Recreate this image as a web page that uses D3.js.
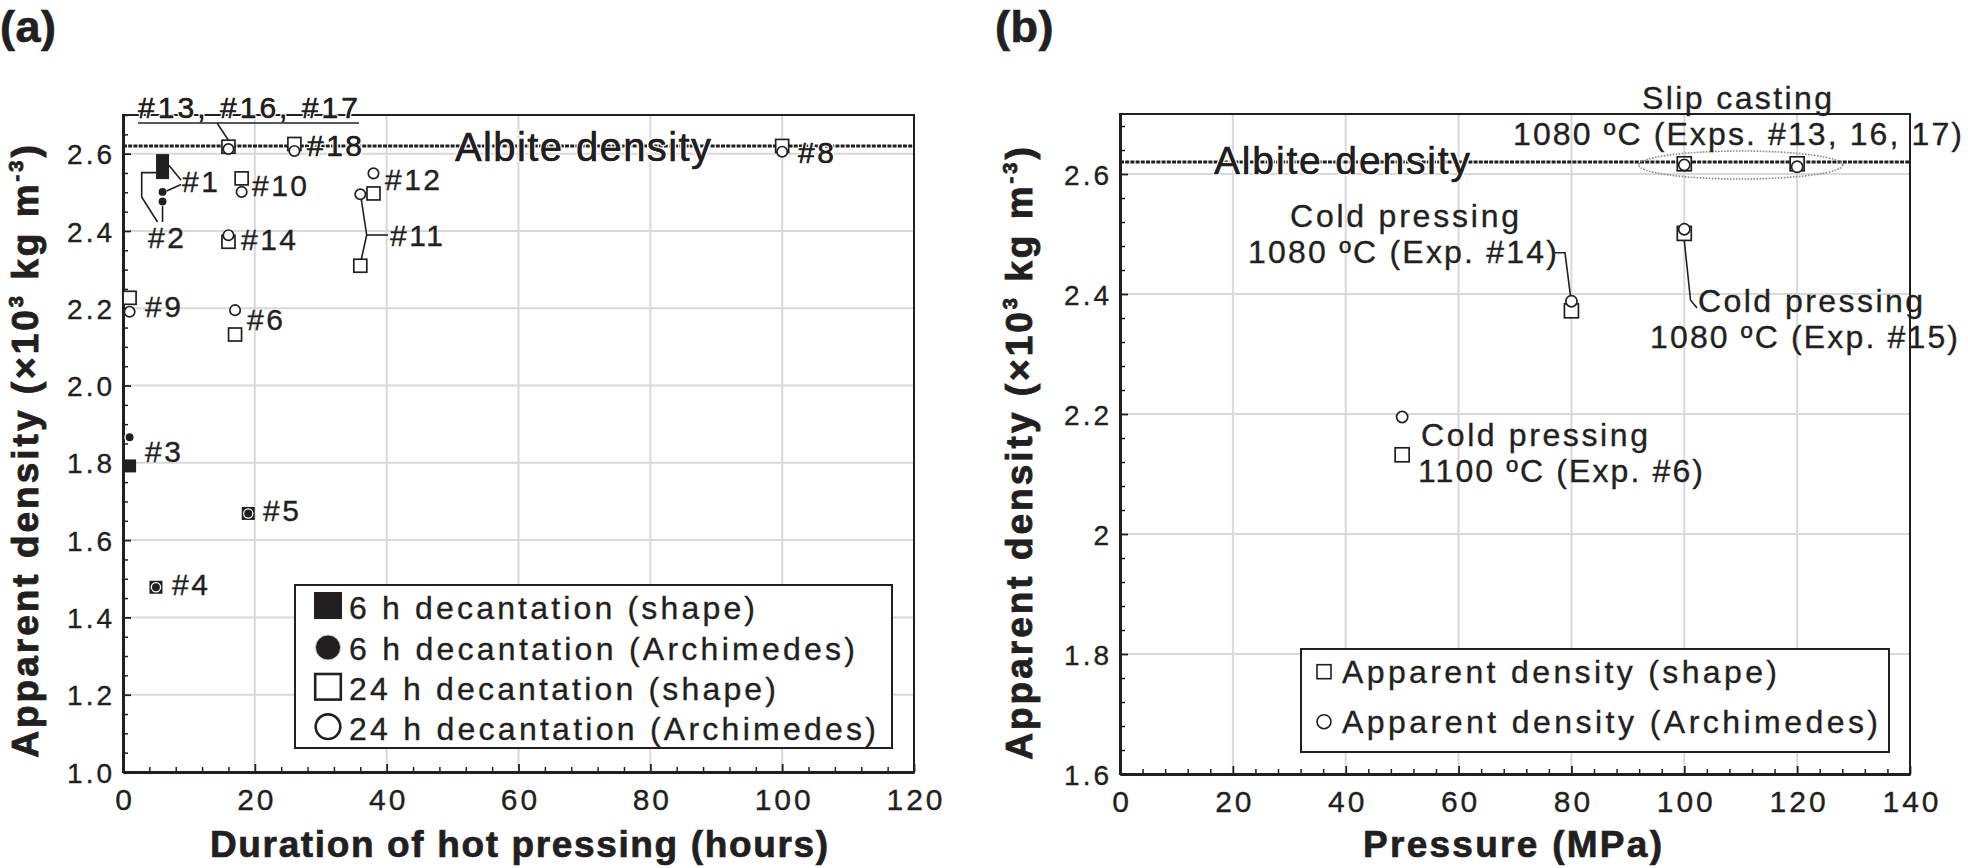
<!DOCTYPE html>
<html>
<head>
<meta charset="utf-8">
<script src="https://cdn.jsdelivr.net/npm/d3@7"></script>
<style>
  html, body { margin: 0; padding: 0; background: #fff; overflow: hidden; }
  svg { display: block; font-family: "Liberation Sans", Arial, Helvetica, sans-serif; }
</style>
</head>
<body>
<svg id="chart" width="1968" height="868"></svg>
<script>
// ---------------- DATA ----------------
const albiteDensity = 2.62;

// Panel (a): duration of hot pressing (hours) vs apparent density (x10^3 kg m^-3)
const hours6hShape     = [6, 6, 1, 5, 19];
const density6hShape   = [2.582, 2.551, 1.792, 1.478, 1.669];
const hours6hArch      = [6, 6, 1, 5, 19];
const density6hArch    = [2.501, 2.476, 1.866, 1.478, 1.669];
const hours24hShape    = [16, 26, 18, 16, 38, 36, 1, 17, 100];
const density24hShape  = [2.618, 2.625, 2.536, 2.372, 2.497, 2.310, 2.227, 2.132, 2.620];
const hours24hArch     = [16, 26, 18, 16, 38, 36, 1, 17, 100];
const density24hArch   = [2.612, 2.607, 2.501, 2.389, 2.549, 2.495, 2.191, 2.195, 2.605];
const xTicksA = [0, 20, 40, 60, 80, 100, 120];
const yTicksA = [1.0, 1.2, 1.4, 1.6, 1.8, 2.0, 2.2, 2.4, 2.6];
const legendA = ["6 h decantation (shape)", "6 h decantation (Archimedes)",
                 "24 h decantation (shape)", "24 h decantation (Archimedes)"];

// Panel (b): pressure (MPa) vs apparent density
const pressureB      = [50, 80, 100, 100, 120];
const densityShapeB  = [2.132, 2.372, 2.501, 2.617, 2.617];
const densityArchB   = [2.195, 2.388, 2.508, 2.615, 2.612];
const xTicksB = [0, 20, 40, 60, 80, 100, 120, 140];
const yTicksB = [1.6, 1.8, 2, 2.2, 2.4, 2.6];
const legendB = ["Apparent density (shape)", "Apparent density (Archimedes)"];

// ---------------- DRAWING ----------------
const INK = "#231f20";
const GRID = "#d9d9d9";
const svg = d3.select("#chart");

function txt(g, s, x, y, opt = {}) {
  const t = g.append("text").attr("x", x).attr("y", y).attr("fill", INK)
    .attr("font-size", opt.size || 30).text(s);
  if (opt.len) t.attr("textLength", opt.len).attr("lengthAdjust", "spacing");
  if (opt.ls) t.attr("letter-spacing", opt.ls);
  if (opt.anchor) t.attr("text-anchor", opt.anchor);
  if (opt.weight) t.attr("font-weight", opt.weight);
  if (opt.halo) {
    t.attr("stroke", "#fff").attr("stroke-width", opt.halo)
      .attr("paint-order", "stroke").attr("stroke-linejoin", "round");
    const t2 = g.append("text").attr("x", x).attr("y", y).attr("fill", INK)
      .attr("font-size", opt.size || 30).text(s)
      .attr("stroke", INK).attr("stroke-width", 0.35);
    if (opt.len) t2.attr("textLength", opt.len).attr("lengthAdjust", "spacing");
    if (opt.ls) t2.attr("letter-spacing", opt.ls);
  } else {
    t.attr("stroke", INK).attr("stroke-width", opt.weight ? 0.7 : 0.35);
  }
  return t;
}
function poly(g, pts, w = 1.6) {
  g.append("path").attr("d", d3.line()(pts)).attr("fill", "none")
    .attr("stroke", INK).attr("stroke-width", w);
}

function frame(g, x, y) {
  g.append("rect").attr("x", x.range()[0]).attr("y", y.range()[1])
    .attr("width", x.range()[1] - x.range()[0]).attr("height", y.range()[0] - y.range()[1])
    .attr("fill", "none").attr("stroke", INK).attr("stroke-width", 2);
}

function grid(g, x, y, xs, ys) {
  g.append("g").selectAll("line").data(xs).join("line")
    .attr("x1", d => x(d)).attr("x2", d => x(d))
    .attr("y1", y.range()[0]).attr("y2", y.range()[1])
    .attr("stroke", GRID).attr("stroke-width", 2);
  g.append("g").selectAll("line").data(ys).join("line")
    .attr("y1", d => y(d)).attr("y2", d => y(d))
    .attr("x1", x.range()[0]).attr("x2", x.range()[1])
    .attr("stroke", GRID).attr("stroke-width", 2);
}

function axes(g, x, y, xt, yt, xMinor, yMinor, yFmt) {
  const bottom = y.range()[0], left = x.range()[0];
  g.append("g").attr("transform", `translate(0,${bottom})`)
    .call(d3.axisBottom(x).tickValues(xMinor).tickSize(-5).tickFormat(""))
    .call(a => a.select(".domain").remove())
    .call(a => a.selectAll("line").attr("stroke", INK).attr("stroke-width", 1.5));
  g.append("g").attr("transform", `translate(${left},0)`)
    .call(d3.axisLeft(y).tickValues(yMinor).tickSize(-5).tickFormat(""))
    .call(a => a.select(".domain").remove())
    .call(a => a.selectAll("line").attr("stroke", INK).attr("stroke-width", 1.5));
  g.append("g").attr("transform", `translate(0,${bottom})`)
    .call(d3.axisBottom(x).tickValues(xt).tickSize(-8).tickSizeOuter(0).tickFormat(d3.format("d")))
    .call(a => a.select(".domain").attr("stroke", INK).attr("stroke-width", 3))
    .call(a => a.selectAll("line").attr("stroke", INK).attr("stroke-width", 1.8))
    .call(a => a.selectAll("text").attr("y", 38).attr("dy", "0").attr("dx", 1.5)
      .attr("font-size", 30).attr("letter-spacing", 3).attr("fill", INK)
      .attr("stroke", INK).attr("stroke-width", 0.35)
      .attr("font-family", "Liberation Sans, Arial, sans-serif"));
  g.append("g").attr("transform", `translate(${left},0)`)
    .call(d3.axisLeft(y).tickValues(yt).tickSize(-8).tickSizeOuter(0).tickFormat(yFmt))
    .call(a => a.select(".domain").attr("stroke", INK).attr("stroke-width", 3))
    .call(a => a.selectAll("line").attr("stroke", INK).attr("stroke-width", 1.8))
    .call(a => a.selectAll("text").attr("x", -8).attr("dy", "0.36em")
      .attr("font-size", 28).attr("letter-spacing", 3).attr("fill", INK)
      .attr("stroke", INK).attr("stroke-width", 0.35)
      .attr("font-family", "Liberation Sans, Arial, sans-serif"));
}

function yTitle(x, yc, ls) {
  const t = svg.append("text").attr("transform", `translate(${x},${yc}) rotate(-90)`)
    .attr("text-anchor", "middle").attr("font-weight", "bold").attr("font-size", 37)
    .attr("letter-spacing", ls).attr("fill", INK).attr("stroke", INK).attr("stroke-width", 0.9);
  t.append("tspan").text("Apparent density (×10");
  t.append("tspan").attr("font-size", 20).attr("dy", -15).text("3");
  t.append("tspan").attr("dy", 15).text(" kg m");
  t.append("tspan").attr("font-size", 20).attr("dy", -15).text("-3");
  t.append("tspan").attr("dy", 15).text(")");
}

function filledSquares(g, x, y, xs, ys, s) {
  g.append("g").selectAll("rect").data(d3.zip(xs, ys)).join("rect")
    .attr("x", d => x(d[0]) - s / 2).attr("y", d => y(d[1]) - s / 2)
    .attr("width", s).attr("height", s).attr("fill", INK);
}
function filledCircles(g, x, y, xs, ys, r) {
  g.append("g").selectAll("circle").data(d3.zip(xs, ys)).join("circle")
    .attr("cx", d => x(d[0])).attr("cy", d => y(d[1])).attr("r", r)
    .attr("fill", INK).attr("stroke", "#fff").attr("stroke-width", 1.3);
}
function openSquares(g, x, y, xs, ys, s) {
  g.append("g").selectAll("rect").data(d3.zip(xs, ys)).join("rect")
    .attr("x", d => x(d[0]) - s / 2).attr("y", d => y(d[1]) - s / 2)
    .attr("width", s).attr("height", s).attr("fill", "#fff")
    .attr("stroke", INK).attr("stroke-width", 1.7);
}
function openCircles(g, x, y, xs, ys, r) {
  g.append("g").selectAll("circle").data(d3.zip(xs, ys)).join("circle")
    .attr("cx", d => x(d[0])).attr("cy", d => y(d[1])).attr("r", r)
    .attr("fill", "#fff").attr("stroke", INK).attr("stroke-width", 1.7);
}

// ======== PANEL (a) ========
const xA = d3.scaleLinear().domain([0, 120]).range([123, 914]);
const yA = d3.scaleLinear().domain([1.0, 2.7]).range([772, 115]);
const gA = svg.append("g");

grid(gA, xA, yA, xTicksA.slice(1, -1), yTicksA.slice(1));
frame(gA, xA, yA);
gA.append("line").attr("x1", xA(0)).attr("x2", xA(120))
  .attr("y1", yA(albiteDensity)).attr("y2", yA(albiteDensity))
  .attr("stroke", INK).attr("stroke-width", 3).attr("stroke-dasharray", "4,1.2");
axes(gA, xA, yA, xTicksA, yTicksA,
  d3.range(0, 121, 4).filter(d => d % 20 !== 0),
  d3.range(1.0, 2.7001, 0.05).filter(d => Math.abs(d * 5 - Math.round(d * 5)) > 1e-6),
  d3.format(".1f"));

filledSquares(gA, xA, yA, hours6hShape, density6hShape, 13);
filledCircles(gA, xA, yA, hours6hArch, density6hArch, 4.6);
openSquares(gA, xA, yA, hours24hShape, density24hShape, 13);
openCircles(gA, xA, yA, hours24hArch, density24hArch, 5.2);

// annotations (a)
txt(gA, "Albite density", 455, 161, { size: 40, len: 256, halo: 3 });
txt(gA, "#13, #16, #17", 138, 118, { size: 30, len: 220, halo: 3 });
txt(gA, "#18", 307, 156, { size: 30, ls: 2.5, halo: 3 });
txt(gA, "#8", 798, 163, { size: 30, ls: 2.5, halo: 3 });
txt(gA, "#1", 182, 192, { size: 30, ls: 2.5 });
txt(gA, "#2", 148, 248, { size: 30, ls: 2.5 });
txt(gA, "#10", 252, 196, { size: 30, ls: 2.5 });
txt(gA, "#14", 241, 250, { size: 30, ls: 2.5 });
txt(gA, "#12", 385, 190, { size: 30, ls: 2.5 });
txt(gA, "#11", 390, 246, { size: 30, ls: 2.5 });
txt(gA, "#9", 145, 317, { size: 30, ls: 2.5 });
txt(gA, "#6", 247, 330, { size: 30, ls: 2.5 });
txt(gA, "#3", 145, 462, { size: 30, ls: 2.5 });
txt(gA, "#5", 263, 521, { size: 30, ls: 2.5 });
txt(gA, "#4", 172, 595, { size: 30, ls: 2.5 });

// leader lines (a)
poly(gA, [[138, 123], [359, 123]]);
poly(gA, [[217, 123], [xA(hours24hShape[0]), yA(density24hShape[0]) - 6.5]]);
poly(gA, [[xA(hours6hShape[0]) + 6.5, yA(density6hShape[1]) - 7], [181, 180]]);
poly(gA, [[xA(hours6hArch[0]) + 4, yA(density6hArch[0]) - 1], [181, 184.5]]);
poly(gA, [[xA(hours6hArch[1]), yA(density6hArch[1]) + 4.6], [xA(hours6hArch[1]), 222]]);
poly(gA, [[157.5, 222], [141.7, 197], [141.7, yA(density6hShape[1])], [xA(hours6hShape[1]) - 6.5, yA(density6hShape[1])]]);
poly(gA, [[xA(hours24hArch[5]) + 1, yA(density24hArch[5]) + 5.2], [366.7, 235]]);
poly(gA, [[xA(hours24hShape[5]) + 1, yA(density24hShape[5]) - 6.5], [366.7, 235]]);
poly(gA, [[366.7, 235], [388, 235]]);

// legend (a)
gA.append("rect").attr("x", 295).attr("y", 585).attr("width", 597).attr("height", 163)
  .attr("fill", "#fff").attr("stroke", INK).attr("stroke-width", 2);
gA.append("rect").attr("x", 314).attr("y", 592).attr("width", 28).attr("height", 27).attr("fill", INK);
gA.append("circle").attr("cx", 328).attr("cy", 647.5).attr("r", 12.5).attr("fill", INK)
  .attr("stroke", "#ccc").attr("stroke-width", 1);
gA.append("rect").attr("x", 315.2).attr("y", 674).attr("width", 25.6).attr("height", 25.6)
  .attr("fill", "#fff").attr("stroke", INK).attr("stroke-width", 2.6);
gA.append("circle").attr("cx", 328).attr("cy", 726.7).attr("r", 12.3).attr("fill", "#fff")
  .attr("stroke", INK).attr("stroke-width", 2.6);
const legAy = [619, 660, 700, 740], legAlen = [406, 506, 427, 527];
legendA.forEach((s, i) => txt(gA, s, 349, legAy[i], { size: 32, len: legAlen[i] }));

// axis titles (a)
txt(svg, "(a)", 0, 42, { size: 45, weight: "bold", ls: 0.5 });
txt(svg, "Duration of hot pressing (hours)", 210, 857, { size: 37, weight: "bold", len: 618 });
yTitle(38, 450, 3.0);

// ======== PANEL (b) ========
const xB = d3.scaleLinear().domain([0, 140]).range([1120, 1910]);
const yB = d3.scaleLinear().domain([1.6, 2.7]).range([774, 114]);
const gB = svg.append("g");

grid(gB, xB, yB, xTicksB.slice(1, -1), yTicksB.slice(1));
frame(gB, xB, yB);
gB.append("line").attr("x1", xB(0)).attr("x2", xB(140))
  .attr("y1", yB(albiteDensity)).attr("y2", yB(albiteDensity))
  .attr("stroke", INK).attr("stroke-width", 3).attr("stroke-dasharray", "4,1.2");
axes(gB, xB, yB, xTicksB, yTicksB,
  d3.range(0, 141, 4).filter(d => d % 20 !== 0),
  d3.range(1.6, 2.7001, 0.04).filter(d => Math.abs(d * 5 - Math.round(d * 5)) > 1e-6),
  d => String(d));

gB.append("ellipse").attr("cx", xB(110)).attr("cy", yB(2.615)).attr("rx", 102).attr("ry", 14)
  .attr("fill", "none").attr("stroke", "#8a8a8a").attr("stroke-width", 1.6)
  .attr("stroke-dasharray", "1.6,1.4");

openSquares(gB, xB, yB, pressureB, densityShapeB, 14);
openCircles(gB, xB, yB, pressureB, densityArchB, 5.6);

// annotations (b)
txt(gB, "Albite density", 1214, 174, { size: 39, len: 256, halo: 3 });
txt(gB, "Slip casting", 1642, 109, { size: 32, len: 190 });
txt(gB, "1080 ºC (Exps. #13, 16, 17)", 1513, 145, { size: 32, len: 449 });
txt(gB, "Cold pressing", 1290, 227, { size: 32, len: 229 });
txt(gB, "1080 ºC (Exp. #14)", 1248, 263, { size: 32, len: 309 });
txt(gB, "Cold pressing", 1698, 312, { size: 32, len: 225 });
txt(gB, "1080 ºC (Exp. #15)", 1650, 348, { size: 32, len: 308 });
txt(gB, "Cold pressing", 1421, 446, { size: 32, len: 227 });
txt(gB, "1100 ºC (Exp. #6)", 1418, 482, { size: 32, len: 285 });

poly(gB, [[1555, 252.7], [1565, 252.7], [xB(pressureB[1]) - 1, yB(densityArchB[1]) - 5.6]]);
poly(gB, [[xB(pressureB[2]), yB(densityShapeB[2]) + 7], [1690.5, 300], [1697, 308]]);

// legend (b)
gB.append("rect").attr("x", 1301).attr("y", 649).attr("width", 588).attr("height", 103)
  .attr("fill", "#fff").attr("stroke", INK).attr("stroke-width", 2);
gB.append("rect").attr("x", 1317).attr("y", 664.7).attr("width", 14).attr("height", 14)
  .attr("fill", "#fff").attr("stroke", INK).attr("stroke-width", 1.6);
gB.append("circle").attr("cx", 1324).attr("cy", 721.7).attr("r", 7)
  .attr("fill", "#fff").attr("stroke", INK).attr("stroke-width", 1.6);
txt(gB, legendB[0], 1342, 683, { size: 32, len: 435 });
txt(gB, legendB[1], 1342, 733, { size: 32, len: 536 });

// axis titles (b)
txt(svg, "(b)", 995, 42, { size: 45, weight: "bold", ls: 0.5 });
txt(svg, "Pressure (MPa)", 1363, 857, { size: 37, weight: "bold", len: 299 });
yTitle(1032, 452, 3.0);
</script>
</body>
</html>
